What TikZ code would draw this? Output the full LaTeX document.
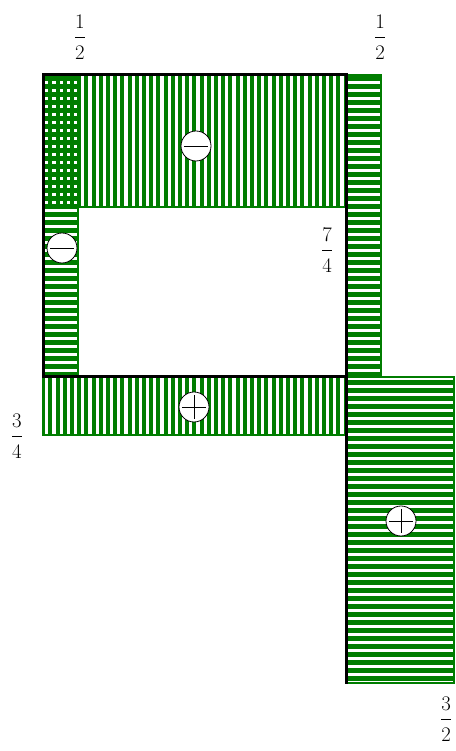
\documentclass[tikz,border=0pt]{standalone}
\usetikzlibrary{patterns.meta}

\definecolor{hatchgreen}{RGB}{0,125,0}
\newcommand{\ratio}[2]{$\displaystyle\frac{#1\rule[-8pt]{0pt}{0pt}}{\rule{0pt}{20pt}#2}$}

\begin{document}
\begin{tikzpicture}[
    x=1pt,y=1pt,font=\huge,
    vhatch/.style={draw=hatchgreen,line width=1.2pt,pattern color=hatchgreen,
        pattern={Lines[angle=90,distance=7.2pt,line width=4pt]}},
    hhatch/.style={draw=hatchgreen,line width=1.2pt,pattern color=hatchgreen,
        pattern={Lines[angle=0,distance=8pt,line width=5pt]}},
    frame/.style={line width=3pt,line cap=rect},
    signbox/.style={circle,draw,fill=white,line width=0.8pt,minimum size=30pt,inner sep=0pt},
    negsign/.style={signbox,path picture={
        \draw[line width=0.9pt] ([xshift=3pt]path picture bounding box.west) -- ([xshift=-3pt]path picture bounding box.east);}},
    possign/.style={signbox,path picture={
        \draw[line width=0.9pt] ([xshift=3pt]path picture bounding box.west) -- ([xshift=-3pt]path picture bounding box.east);
        \draw[line width=0.9pt] ([yshift=-3pt]path picture bounding box.north) -- ([yshift=3pt]path picture bounding box.south);}}
]
\useasboundingbox (0,0) rectangle (455,751);

% moment areas
\draw[vhatch] (43,676) rectangle (346,544);
\draw[hhatch] (43,676) rectangle (78,374);
\draw[hhatch] (346,676) rectangle (381,374);
\draw[vhatch] (43,374) rectangle (346,316);
\draw[hhatch] (346,374) rectangle (454,68);

% frame
\draw[frame] (43,374) -- (43,676) -- (346,676) -- (346,68);
\draw[frame] (43,374) -- (346,374);

\node[negsign] (negtop) at (196,605) {};
\node[negsign] (negleft) at (62,503) {};
\node[possign] (posbot) at (194,344) {};
\node[possign] (posright) at (401,230) {};

\node (ltop) at (80,714) {\ratio{1}{2}};
\node (rtop) at (380,714) {\ratio{1}{2}};
\node (rmid) at (327,501) {\ratio{7}{4}};
\node (lbot) at (17,315) {\ratio{3}{4}};
\node (rbot) at (446,32) {\ratio{3}{2}};

\end{tikzpicture}
\end{document}
